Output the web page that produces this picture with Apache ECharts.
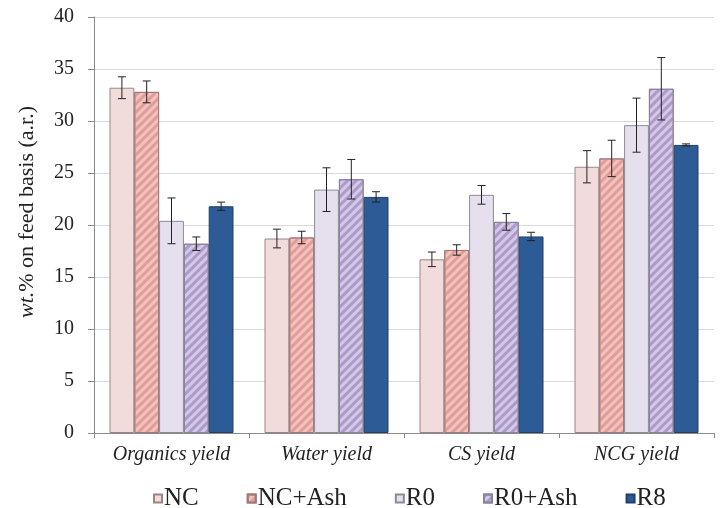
<!DOCTYPE html>
<html>
<head>
<meta charset="utf-8">
<script src="https://cdn.jsdelivr.net/npm/echarts@6/dist/echarts.min.js"></script>
<style>
  html, body { margin: 0; padding: 0; background: #fff; }
  #chart { width: 723px; height: 508px; }
</style>
</head>
<body>
<div id="chart"></div>
<script>
const categories = ['Organics yield', 'Water yield', 'CS yield', 'NCG yield'];
const seriesNames = ['NC', 'NC+Ash', 'R0', 'R0+Ash', 'R8'];

// mean values per series (wt.%)
const valNC      = [33.2, 18.7, 16.7, 25.6];
const valNCAsh   = [32.8, 18.8, 17.6, 26.4];
const valR0      = [20.4, 23.4, 22.9, 29.6];
const valR0Ash   = [18.2, 24.4, 20.3, 33.1];
const valR8      = [21.8, 22.7, 18.9, 27.7];

// error (+/-) per series
const errNC      = [1.05, 0.9, 0.7, 1.55];
const errNCAsh   = [1.05, 0.6, 0.5, 1.75];
const errR0      = [2.2, 2.1, 0.9, 2.6];
const errR0Ash   = [0.65, 1.9, 0.8, 3.0];
const errR8      = [0.4, 0.5, 0.4, 0.1];

const yTicks = [0, 5, 10, 15, 20, 25, 30, 35, 40];

const values = [valNC, valNCAsh, valR0, valR0Ash, valR8];
const errors = [errNC, errNCAsh, errR0, errR0Ash, errR8];

const fills = ['#f2dcdb', '#f2c2be', '#e6e0ee', '#d3c9e4', '#2d5b95'];
const borders = ['#9a8585', '#a07a7a', '#8d8a94', '#8a8296', '#243f66'];
const decals = [
  null,
  { symbol: 'rect', symbolSize: 1, dashArrayX: [1, 0], dashArrayY: [3, 3], rotation: -Math.PI / 4, color: '#e29d98' },
  null,
  { symbol: 'rect', symbolSize: 1, dashArrayX: [1, 0], dashArrayY: [3, 3], rotation: -Math.PI / 4, color: '#ab9acb' },
  null
];

const catGap = 0.2;
const font = '"Liberation Serif", "DejaVu Serif", serif';

const chart = echarts.init(document.getElementById('chart'));

const barSeries = seriesNames.map((name, i) => ({
  name: name,
  type: 'bar',
  data: values[i],
  barGap: '0%',
  barCategoryGap: (catGap * 100) + '%',
  itemStyle: {
    color: fills[i],
    borderColor: borders[i],
    borderWidth: 1,
    decal: decals[i] || undefined
  },
  z: 2
}));

const errSeries = seriesNames.map((name, i) => ({
  name: name + ' err',
  type: 'custom',
  data: values[i].map((v, k) => [k, v - errors[i][k], v + errors[i][k]]),
  encode: { x: 0, y: [1, 2] },
  renderItem: function (params, api) {
    const band = api.size([1, 0])[0];
    const bw = band * (1 - catGap) / 5;
    const offset = (i - 2) * bw;
    const lo = api.coord([api.value(0), api.value(1)]);
    const hi = api.coord([api.value(0), api.value(2)]);
    const x = lo[0] + offset;
    const cap = 4;
    const style = { stroke: '#222', lineWidth: 1 };
    return {
      type: 'group',
      children: [
        { type: 'line', shape: { x1: x, y1: lo[1], x2: x, y2: hi[1] }, style: style },
        { type: 'line', shape: { x1: x - cap, y1: lo[1], x2: x + cap, y2: lo[1] }, style: style },
        { type: 'line', shape: { x1: x - cap, y1: hi[1], x2: x + cap, y2: hi[1] }, style: style }
      ]
    };
  },
  z: 5,
  silent: true
}));

chart.setOption({
  animation: false,
  aria: { enabled: false, decal: { show: true } },
  textStyle: { fontFamily: font },
  grid: { left: 94, right: 9, top: 17, bottom: 75 },
  legend: {
    data: seriesNames,
    top: 481,
    left: 148,
    itemWidth: 8,
    itemHeight: 8,
    itemGap: 48,
    icon: 'rect',
    textStyle: { fontFamily: font, fontSize: 25, color: '#222', padding: [0, 0, 0, -3] }
  },
  xAxis: {
    type: 'category',
    data: categories,
    axisLine: { lineStyle: { color: '#8a8a8a' } },
    axisTick: { show: true, alignWithLabel: false, length: 5, lineStyle: { color: '#8a8a8a' } },
    axisLabel: { fontFamily: font, fontStyle: 'italic', fontSize: 20, color: '#222', margin: 12 }
  },
  yAxis: {
    type: 'value',
    min: yTicks[0],
    max: yTicks[yTicks.length - 1],
    interval: 5,
    name: '{i|wt.}% on feed basis (a.r.)',
    nameLocation: 'middle',
    nameGap: 56,
    nameTextStyle: {
      fontFamily: font, fontSize: 22, color: '#222', padding: [0, 0, 0, 26],
      rich: { i: { fontFamily: font, fontSize: 22, fontStyle: 'italic', color: '#222' } }
    },
    axisLine: { show: true, lineStyle: { color: '#8a8a8a' } },
    axisTick: { show: true, length: 6, lineStyle: { color: '#8a8a8a' } },
    axisLabel: { fontFamily: font, fontSize: 20, color: '#222', margin: 20 },
    splitLine: { lineStyle: { color: '#d9d9d9' } }
  },
  series: barSeries.concat(errSeries)
});
</script>
</body>
</html>
